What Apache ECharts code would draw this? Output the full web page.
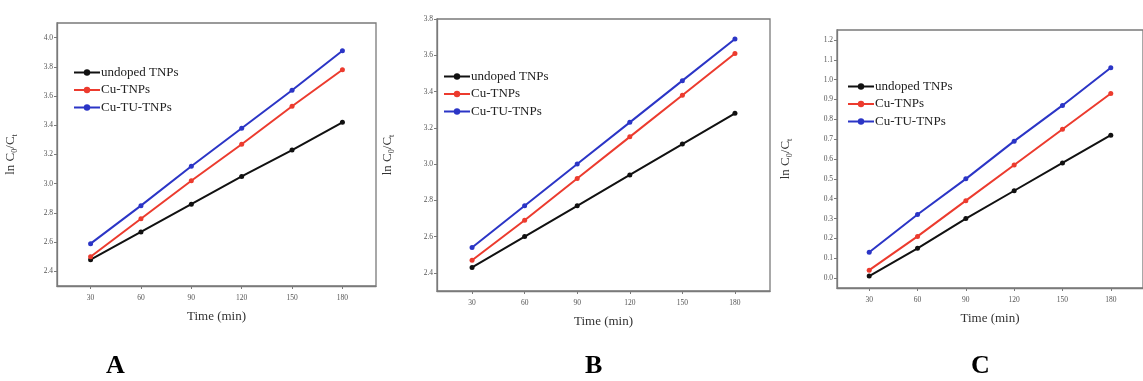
<!DOCTYPE html>
<html>
<head>
<meta charset="utf-8">
<script src="https://cdn.jsdelivr.net/npm/echarts@6/dist/echarts.min.js"></script>
<style>
html,body{margin:0;padding:0;background:#fff;}
#c{width:1143px;height:381px;}
</style>
</head>
<body>
<div id="c"></div>
<script>
// ---- data ----
const time = [30, 60, 90, 120, 150, 180];
const xTickValues = [30, 60, 90, 120, 150, 180];
const seriesNames = ['undoped TNPs', 'Cu-TNPs', 'Cu-TU-TNPs'];

const aUndoped = [2.48, 2.67, 2.86, 3.05, 3.23, 3.42];
const aCu      = [2.50, 2.76, 3.02, 3.27, 3.53, 3.78];
const aCuTU    = [2.59, 2.85, 3.12, 3.38, 3.64, 3.91];

const bUndoped = [2.43, 2.60, 2.77, 2.94, 3.11, 3.28];
const bCu      = [2.47, 2.69, 2.92, 3.15, 3.38, 3.61];
const bCuTU    = [2.54, 2.77, 3.00, 3.23, 3.46, 3.69];

const cUndoped = [0.01, 0.15, 0.30, 0.44, 0.58, 0.72];
const cCu      = [0.04, 0.21, 0.39, 0.57, 0.75, 0.93];
const cCuTU    = [0.13, 0.32, 0.50, 0.69, 0.87, 1.06];

const aYTicks = [2.4, 2.6, 2.8, 3.0, 3.2, 3.4, 3.6, 3.8, 4.0];
const bYTicks = [2.4, 2.6, 2.8, 3.0, 3.2, 3.4, 3.6, 3.8];
const cYTicks = [0.0, 0.1, 0.2, 0.3, 0.4, 0.5, 0.6, 0.7, 0.8, 0.9, 1.0, 1.1, 1.2];

const panelLetters = ['A', 'B', 'C'];
const xTitle = 'Time (min)';

// ---- chart ----
const FONT = '"Liberation Serif", "DejaVu Serif", serif';
const colors = ['#111111', '#ec3b2e', '#2b35c6'];
const axisColor = '#7a7a7a';

const grids = [
  {left: 57, top: 23, width: 319, height: 263},
  {left: 437, top: 19, width: 333, height: 272},
  {left: 837, top: 30, width: 313, height: 258}
];
const yRanges = [[2.3, 4.1], [2.3, 3.8], [-0.05, 1.25]];
const yTicksAll = [aYTicks, bYTicks, cYTicks];
const yNameGaps = [38, 41, 43];

const pair = v => time.map((t, i) => [t, v[i]]);
const panelData = [
  [aUndoped, aCu, aCuTU],
  [bUndoped, bCu, bCuTU],
  [cUndoped, cCu, cCuTU]
];

const xAxes = grids.map((g, i) => ({
  gridIndex: i, type: 'value', min: 10, max: 200,
  name: xTitle, nameLocation: 'middle', nameGap: 24,
  nameTextStyle: {fontFamily: FONT, fontSize: 13, color: '#333'},
  axisLine: {show: true, onZero: false, lineStyle: {color: axisColor, width: 1.3}},
  axisTick: {show: true, length: 3, customValues: xTickValues, lineStyle: {color: axisColor}},
  axisLabel: {show: true, customValues: xTickValues, fontFamily: FONT, fontSize: 7.5, color: '#555', margin: 8},
  splitLine: {show: false}
}));

const yAxes = grids.map((g, i) => ({
  gridIndex: i, type: 'value', min: yRanges[i][0], max: yRanges[i][1],
  name: '{a|ln C}{s|0}{a|/C}{s|t}', nameLocation: 'middle', nameGap: yNameGaps[i], nameRotate: 90,
  nameTextStyle: {
    color: '#333',
    rich: {
      a: {fontFamily: FONT, fontSize: 13, color: '#333', lineHeight: 16},
      s: {fontFamily: FONT, fontSize: 8, color: '#333', lineHeight: 16, padding: [7, 0, 0, 0]}
    }
  },
  axisLine: {show: true, onZero: false, lineStyle: {color: axisColor, width: 1.3}},
  axisTick: {show: true, length: 3, customValues: yTicksAll[i], lineStyle: {color: axisColor}},
  axisLabel: {show: true, customValues: yTicksAll[i], fontFamily: FONT, fontSize: 7.5, color: '#555', margin: 4,
              formatter: v => Number(v).toFixed(1)},
  splitLine: {show: false}
}));

const series = [];
panelData.forEach((arrs, p) => {
  arrs.forEach((vals, k) => {
    series.push({
      name: seriesNames[k], type: 'line', xAxisIndex: p, yAxisIndex: p,
      data: pair(vals), symbol: 'circle', symbolSize: 5,
      lineStyle: {color: colors[k], width: 2},
      itemStyle: {color: colors[k]},
      z: 3 + k, animation: false
    });
  });
});

const legendPos = [
  {left: 73, top: 66},
  {left: 443, top: 70},
  {left: 847, top: 80}
];
const legends = legendPos.map(lp => ({
  left: lp.left, top: lp.top, orient: 'vertical', padding: 0,
  data: seriesNames, itemWidth: 26, itemHeight: 8, itemGap: 4.5,
  selectedMode: false,
  textStyle: {fontFamily: FONT, fontSize: 13, color: '#222', lineHeight: 13, padding: [0, 0, 0, -4]}
}));

const letterX = [115, 594, 980];
const graphics = panelLetters.map((t, i) => ({
  type: 'text', left: letterX[i] - 9, top: 353,
  style: {text: t, font: 'bold 26px ' + FONT, fill: '#000'}
}));

const chart = echarts.init(document.getElementById('c'), null, {renderer: 'canvas'});
chart.setOption({
  animation: false,
  backgroundColor: '#fff',
  grid: grids.map(g => Object.assign({show: true, borderColor: axisColor, borderWidth: 1.3, backgroundColor: 'transparent'}, g)),
  xAxis: xAxes,
  yAxis: yAxes,
  legend: legends,
  series: series,
  graphic: graphics
});
</script>
</body>
</html>
